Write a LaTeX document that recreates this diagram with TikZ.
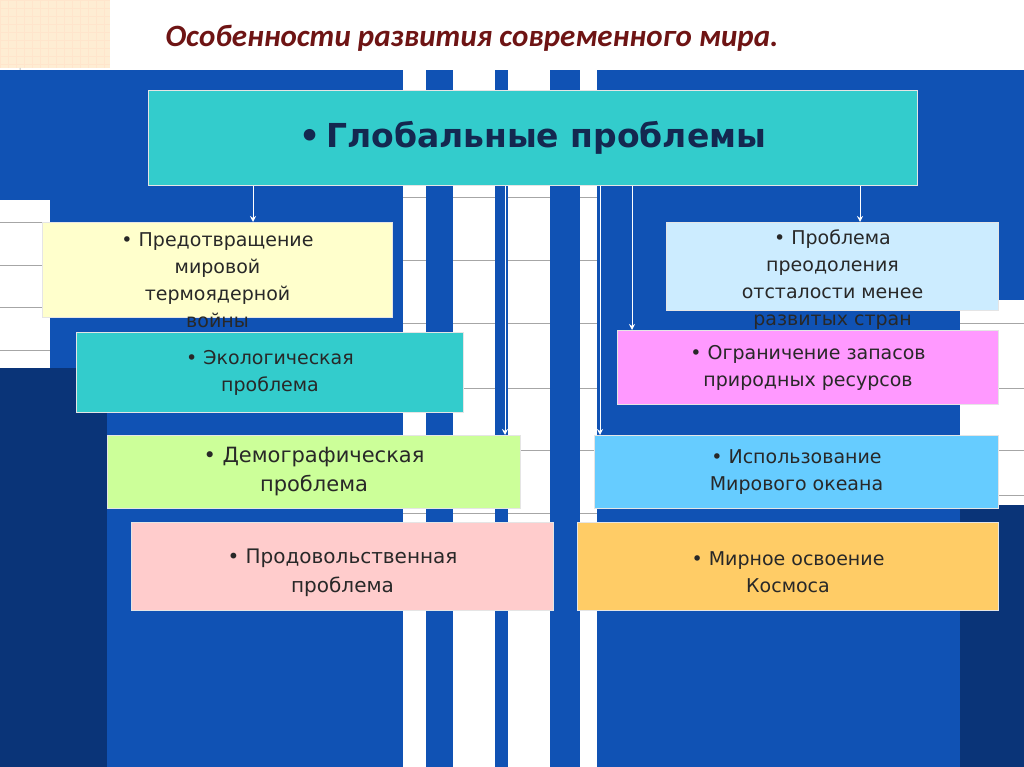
\documentclass[tikz,border=0pt]{standalone}
\usetikzlibrary{arrows.meta}
\usepackage{fontspec}
\setmainfont{DejaVu Sans}
\newfontfamily\titlefont{Carlito}
\definecolor{bg}{RGB}{16,82,180}
\definecolor{dbg}{RGB}{10,52,120}
\definecolor{tl}{RGB}{51,204,204}
\definecolor{yl}{RGB}{255,255,204}
\definecolor{gr}{RGB}{204,255,153}
\definecolor{pk}{RGB}{255,204,204}
\definecolor{lb}{RGB}{204,236,255}
\definecolor{mg}{RGB}{255,153,255}
\definecolor{sk}{RGB}{102,204,255}
\definecolor{or}{RGB}{255,204,102}
\definecolor{txt}{RGB}{40,40,40}
\definecolor{navy}{RGB}{20,40,80}
\definecolor{red1}{RGB}{110,20,20}
\begin{document}
\begin{tikzpicture}[x=1pt,y=-1pt,
  bx/.style={draw=white!80!gray,line width=1pt,anchor=north west},
  lbl/.style={font=\fontsize{19}{27}\selectfont,text=txt,align=center,inner sep=0pt},
  arr/.style={white,line width=1pt,-{Stealth[length=6pt,width=6pt]}},
  grid/.style={gray!70,line width=0.8pt}]
\useasboundingbox (0,0) rectangle (1024,767);
\fill[white] (0,0) rectangle (1024,767);
% corner decoration
\fill[yellow!15!orange!15] (0,0) rectangle (110,68);
\foreach \i in {0,8,...,110} \draw[orange!20,line width=0.4pt] (\i,0) -- (\i,68);
\foreach \j in {0,8,...,68} \draw[orange!20,line width=0.4pt] (0,\j) -- (110,\j);
\draw[gray!50,line width=1pt] (20,68) arc[start angle=180,end angle=90,radius=90];
\node[font=\titlefont\bfseries\itshape\fontsize{31}{36}\selectfont,text=red1,anchor=west] (title) at (162,38) {Особенности развития современного мира.};
% blue background
\fill[bg] (0,70) rectangle (1024,767);
\fill[dbg] (0,368) rectangle (107,767);
\fill[dbg] (960,500) rectangle (1024,767);
% white panels
\fill[white] (0,200) rectangle (50,368);
\foreach \y in {222,265,307,350} \draw[grid] (0,\y) -- (50,\y);
\fill[white] (960,300) rectangle (1024,505);
\foreach \y in {323,388,450,495} \draw[grid] (960,\y) -- (1024,\y);
% stripes
\foreach \a/\b in {403/426,453/495,508/550,580/597} \fill[white] (\a,70) rectangle (\b,767);
\foreach \y in {197,260,323,388,450,513,576} \draw[grid] (403,\y) -- (597,\y);
\foreach \a/\b in {426/453,495/508,550/580} \fill[bg] (\a,185) rectangle (\b,767);
% title box
\node[bx,fill=tl,minimum width=769pt,minimum height=95pt] (t) at (148,90) {};
\node[font=\bfseries\fontsize{33}{38}\selectfont,text=navy] (tt) at (t.center) {•\,Глобальные проблемы};
% left boxes
\node[bx,fill=yl,minimum width=350pt,minimum height=95pt] (b1) at (42,222) {};
\node[lbl,anchor=north] (b1t) at ([yshift=-10pt]b1.north) {• Предотвращение\\мировой\\термоядерной\\войны};
\node[bx,fill=tl,minimum width=387pt,minimum height=80pt] (b2) at (76,332) {};
\node[lbl] (b2t) at (b2.center) {• Экологическая\\проблема};
\node[bx,fill=gr,minimum width=413pt,minimum height=73pt] (b3) at (107,435) {};
\node[lbl,font=\fontsize{21}{29}\selectfont] (b3t) at (b3.center) {• Демографическая\\проблема};
\node[bx,fill=pk,minimum width=422pt,minimum height=88pt] (b4) at (131,522) {};
\node[lbl,font=\fontsize{20}{29}\selectfont] (b4t) at ([yshift=-6pt]b4.center) {• Продовольственная\\проблема};
% right boxes
\node[bx,fill=lb,minimum width=332pt,minimum height=88pt] (r1) at (666,222) {};
\node[lbl,anchor=north] (r1t) at ([yshift=-8pt]r1.north) {• Проблема\\преодоления\\отсталости менее\\развитых стран};
\node[bx,fill=mg,minimum width=381pt,minimum height=74pt] (r2) at (617,330) {};
\node[lbl] (r2t) at (r2.center) {• Ограничение запасов\\природных ресурсов};
\node[bx,fill=sk,minimum width=404pt,minimum height=73pt] (r3) at (594,435) {};
\node[lbl] (r3t) at (r3.center) {• Использование\\Мирового океана};
\node[bx,fill=or,minimum width=421pt,minimum height=88pt] (r4) at (577,522) {};
\node[lbl] (r4t) at ([yshift=-6pt]r4.center) {• Мирное освоение\\Космоса};
% arrows
\coordinate (x1) at (253,0);
\coordinate (x2) at (505,0);
\coordinate (x3) at (600,0);
\coordinate (x4) at (632,0);
\coordinate (x5) at (860,0);
\draw[arr] (t.south -| x1) -- (b1.north -| x1);
\draw[arr] (t.south -| x2) -- (b3.north -| x2);
\draw[arr] (t.south -| x3) -- (r3.north -| x3);
\draw[arr] (t.south -| x4) -- (r2.north -| x4);
\draw[arr] (t.south -| x5) -- (r1.north -| x5);
\end{tikzpicture}
\end{document}
